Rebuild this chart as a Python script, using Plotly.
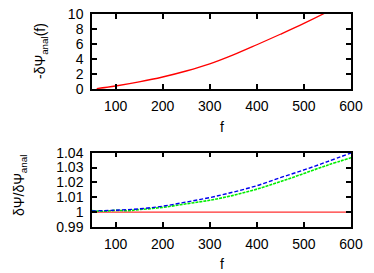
import plotly.graph_objects as go

# upper panel: -dPsi_anal(f)
f_up = [60, 100, 150, 200, 250, 300, 350, 400, 450, 500, 550, 600]
psi_up = [0.05, 0.4, 0.95, 1.6, 2.4, 3.35, 4.55, 5.9, 7.3, 8.75, 10.3, 12.0]

# lower panel: ratios
f_red = [50, 600]
ratio_red = [1.0, 1.0]
f_blue = [50, 100, 150, 200, 250, 300, 350, 400, 450, 500, 550, 600]
ratio_blue = [1.0008, 1.0013, 1.0022, 1.0040, 1.0068, 1.0098, 1.0135, 1.0178, 1.0232, 1.0284, 1.0340, 1.0398]
f_green = [50, 75, 100, 125, 150, 200, 250, 300, 350, 400, 450, 500, 550, 600]
ratio_green = [1.0010, 1.0006, 1.0012, 1.0010, 1.0017, 1.0032, 1.0056, 1.0080, 1.0113, 1.0155, 1.0205,
               1.0260, 1.0316, 1.0366]

xticks = [100, 200, 300, 400, 500, 600]
yticks_up = [0, 2, 4, 6, 8, 10]
yticks_low = [0.99, 1.0, 1.01, 1.02, 1.03, 1.04]
yticklabels_low = ["0.99", "1", "1.01", "1.02", "1.03", "1.04"]

FONT = "Liberation Sans, Arial, sans-serif"

fig = go.Figure()
fig.add_trace(go.Scatter(x=f_up, y=psi_up, mode="lines", line=dict(color="#ff0000", width=1.3, shape="spline"),
                         xaxis="x", yaxis="y", showlegend=False))
fig.add_trace(go.Scatter(x=f_red, y=ratio_red, mode="lines", line=dict(color="#ff3030", width=1.2),
                         xaxis="x2", yaxis="y2", showlegend=False))
fig.add_trace(go.Scatter(x=f_green, y=ratio_green, mode="lines",
                         line=dict(color="#00ee00", width=1.6, dash="3px,1px", shape="spline"),
                         xaxis="x2", yaxis="y2", showlegend=False))
fig.add_trace(go.Scatter(x=f_blue, y=ratio_blue, mode="lines",
                         line=dict(color="#0000ee", width=1.4, dash="4px,2px", shape="spline"),
                         xaxis="x2", yaxis="y2", showlegend=False))

font = dict(family=FONT, size=14, color="black")
axis_common = dict(showline=True, linecolor="black", linewidth=1.5, mirror="allticks",
                   ticks="inside", ticklen=5, tickwidth=1.5, tickcolor="black",
                   showgrid=False, zeroline=False, tickfont=font, ticklabeloverflow="allow")

H = 213.0  # plot-area height in px
W = 259.0  # plot-area width in px


def py(p):
    return (227 - p) / H


def px(p):
    return (p - 92) / W


tfont = dict(family=FONT, size=14, color="black")
fig.update_layout(
    width=374, height=273,
    margin=dict(l=84, r=31, t=6, b=54, autoexpand=False),
    plot_bgcolor="white", paper_bgcolor="white",
    xaxis=dict(domain=[0, 1], range=[50, 600], tickvals=xticks, anchor="y", ticklabelstandoff=3, **axis_common),
    yaxis=dict(domain=[py(89), 1], range=[0, 10], tickvals=yticks_up, anchor="x", ticklabelstandoff=4, **axis_common),
    xaxis2=dict(domain=[0, 1], range=[50, 600], tickvals=xticks, anchor="y2", ticklabelstandoff=3, **axis_common),
    yaxis2=dict(domain=[0, py(152.7)], range=[0.99, 1.04], tickvals=yticks_low, ticktext=yticklabels_low,
                anchor="x2", ticklabelstandoff=4, **axis_common),
    annotations=[
        dict(text="f", xref="paper", yref="paper", x=0.5, y=py(127), yanchor="middle",
             showarrow=False, font=tfont),
        dict(text="f", xref="paper", yref="paper", x=0.5, y=py(264), yanchor="middle",
             showarrow=False, font=tfont),
        dict(text="-δΨ<sub>anal</sub>(f)", xref="paper", yref="paper", x=px(41), xanchor="center",
             y=py(51), yanchor="middle", textangle=-90, showarrow=False, font=tfont),
        dict(text="δΨ/δΨ<sub>anal</sub>", xref="paper", yref="paper", x=px(20), xanchor="center",
             y=py(186), yanchor="middle", textangle=-90, showarrow=False, font=tfont),
    ],
)

fig.write_html("out.html")
